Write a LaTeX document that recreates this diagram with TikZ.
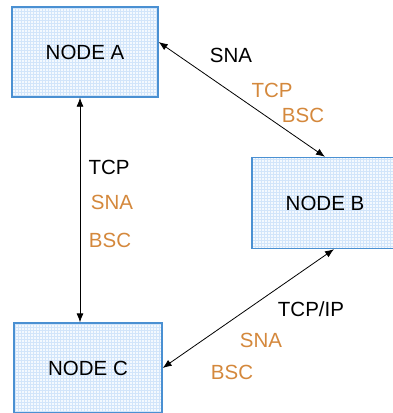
\documentclass[tikz,border=0pt]{standalone}
\usepackage{fontspec}
\setmainfont{Liberation Sans}
\usetikzlibrary{arrows.meta}
\definecolor{boxline}{HTML}{4A90D2}
\definecolor{boxfill}{HTML}{F4F9FE}
\definecolor{gridblue}{HTML}{D2E5FA}
\definecolor{proto}{HTML}{D4883C}
\tikzset{
  netnode/.style={rectangle, draw=boxline, line width=1.3pt, fill=boxfill,
    minimum width=146pt, minimum height=90pt, inner sep=0pt,
    font=\fontsize{20.5}{24}\selectfont, text height=14.7pt, text depth=0pt,
    path picture={\draw[gridblue, line width=0.8pt]
      (path picture bounding box.south west) grid[step=3pt]
      (path picture bounding box.north east);}},
  link/.style={line width=0.8pt, {Latex[length=9pt,width=7pt]}-{Latex[length=9pt,width=7pt]}},
  lbl/.style={inner sep=0pt, font=\fontsize{20.5}{24}\selectfont,
    text height=14.7pt, text depth=0pt},
  main/.style={lbl, text=black},
  alt/.style={lbl, text=proto}
}
\begin{document}
\begin{tikzpicture}[x=1pt, y=-1pt]
  \useasboundingbox (0,0) rectangle (393,413);
  \clip (0,0) rectangle (393,413);

  % network nodes
  \node[netnode] (A) at (85,52) {NODE A};
  \node[netnode, minimum height=91pt] (B) at (325,203) {NODE B};
  \node[netnode, minimum width=148pt] (C) at (88,368) {NODE C};

  % links between the nodes
  \draw[link] ([yshift=10pt]A.east) -- (B.north);
  \draw[link] ([xshift=-5pt]A.south) -- ([xshift=-8pt]C.north);
  \draw[link] ([xshift=9pt]B.south) -- (C.east);

  % protocols on the A--B link
  \node[main] (abp1) at (231,55.5) {SNA};
  \node[alt]  (abp2) at (272,90.5) {TCP};
  \node[alt]  (abp3) at (303,115) {BSC};

  % protocols on the A--C link
  \node[main] (acp1) at (109,167.5) {TCP};
  \node[alt]  (acp2) at (112,202.5) {SNA};
  \node[alt]  (acp3) at (110,240.5) {BSC};

  % protocols on the B--C link
  \node[main] (bcp1) at (311,309.5) {TCP/IP};
  \node[alt]  (bcp2) at (261,340.5) {SNA};
  \node[alt]  (bcp3) at (232,372.5) {BSC};
\end{tikzpicture}
\end{document}
